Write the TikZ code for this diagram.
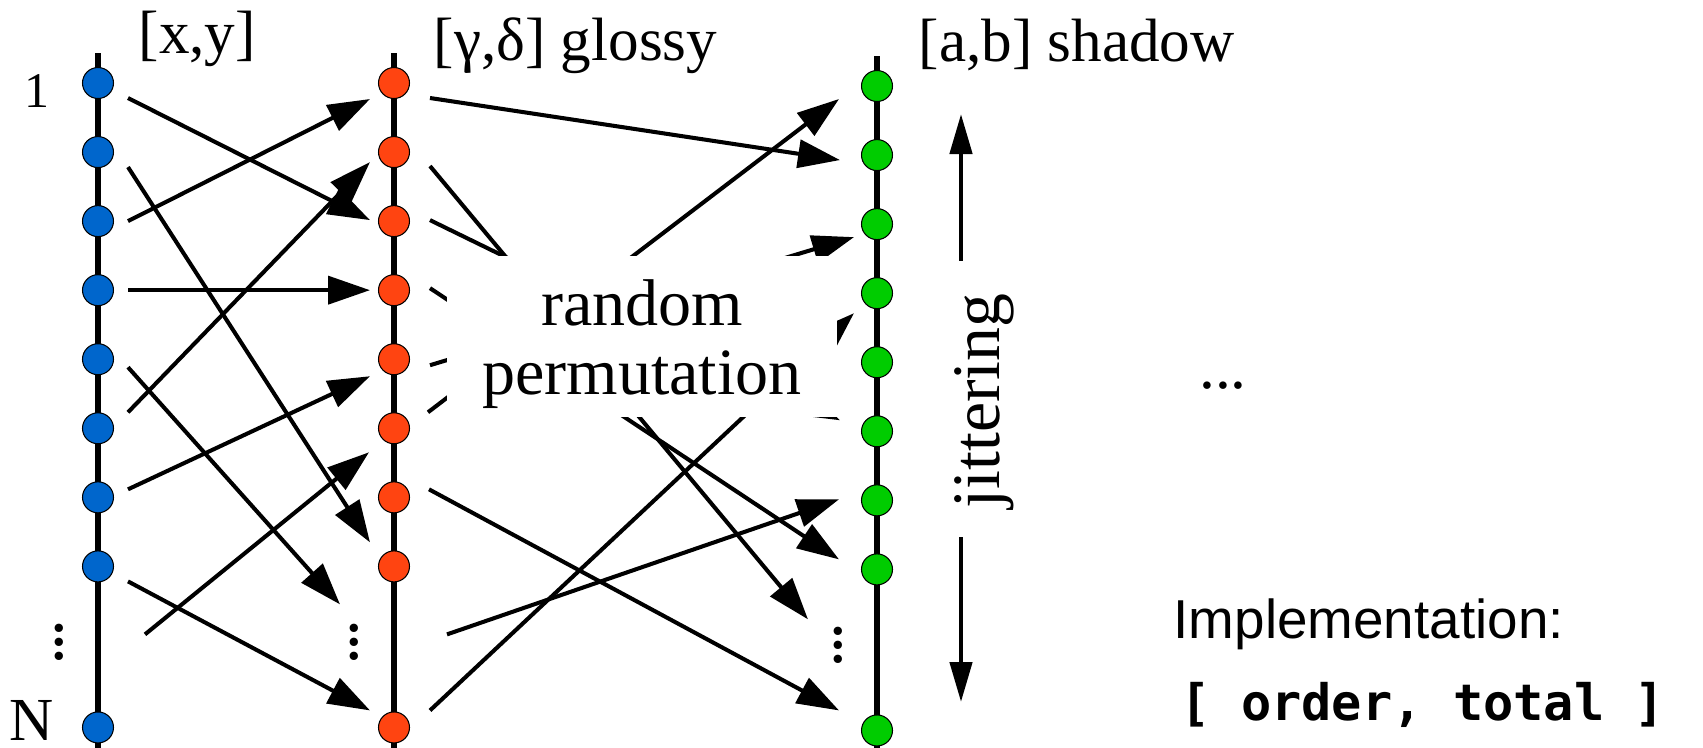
\documentclass[tikz,border=0pt]{standalone}
\usepackage{fontspec}
\setmainfont{Liberation Serif}
\setsansfont{Liberation Sans}
\setmonofont{DejaVu Sans Mono}
\usetikzlibrary{arrows.meta, positioning, calc, backgrounds}

\definecolor{dotblue}{RGB}{0,102,204}
\definecolor{dotred}{RGB}{255,68,17}
\definecolor{dotgreen}{RGB}{0,204,0}

\begin{document}
\begin{tikzpicture}[
	node distance=0.37cm,
	% dots on the three axes
	ptdot/.style={circle, draw=black, line width=0.3pt, minimum size=0.31cm, inner sep=0pt},
	dot-xy/.style={ptdot, fill=dotblue},
	dot-gd/.style={ptdot, fill=dotred},
	dot-ab/.style={ptdot, fill=dotgreen},
	vdot/.style={anchor=south, inner sep=0pt, font=\fontsize{20}{24}\selectfont},
	% lines and arrows
	axis line/.style={line width=1.8pt},
	perm arrow/.style={line width=1.15pt, -{Triangle[length=0.42cm, width=0.28cm]}},
	jitter arrow/.style={line width=1.3pt, -{Triangle[length=0.40cm, width=0.22cm]}},
	% text styles
	col label/.style={anchor=base west, inner sep=0pt, font=\fontsize{17.4}{20}\selectfont},
	perm label/.style={fill=white, align=center, minimum width=3.90cm, minimum height=1.61cm, inner sep=0pt, font=\fontsize{18.8}{19.9}\selectfont},
	jitter label/.style={rotate=90, anchor=base, inner sep=0pt, font=\fontsize{19.3}{22}\selectfont}
	]
	\useasboundingbox (0,0) rectangle (17.03,-7.47);
	
	% ==============================================================================
	% AXES
	% ==============================================================================
	
	% [x,y]
	\node[dot-xy] (b1) at (0.98,-0.83) {};
	\node[dot-xy, below=of b1] (b2) {};
	\node[dot-xy, below=of b2] (b3) {};
	\node[dot-xy, below=of b3] (b4) {};
	\node[dot-xy, below=of b4] (b5) {};
	\node[dot-xy, below=of b5] (b6) {};
	\node[dot-xy, below=of b6] (b7) {};
	\node[dot-xy, below=of b7] (b8) {};
	\node[dot-xy, below=1.29cm of b8] (bN) {};
	\node[vdot] (bv) at ($(b8)!0.5!(bN)+(-0.39,-0.14)$) {\vdots};
	
	% [gamma,delta] glossy
	\node[dot-gd] (o1) at (3.94,-0.83) {};
	\node[dot-gd, below=of o1] (o2) {};
	\node[dot-gd, below=of o2] (o3) {};
	\node[dot-gd, below=of o3] (o4) {};
	\node[dot-gd, below=of o4] (o5) {};
	\node[dot-gd, below=of o5] (o6) {};
	\node[dot-gd, below=of o6] (o7) {};
	\node[dot-gd, below=of o7] (o8) {};
	\node[dot-gd, below=1.29cm of o8] (oN) {};
	\node[vdot] (ov) at ($(o8)!0.5!(oN)+(-0.40,-0.14)$) {\vdots};
	
	% [a,b] shadow
	\node[dot-ab] (g1) at (8.77,-0.86) {};
	\node[dot-ab, below=of g1] (g2) {};
	\node[dot-ab, below=of g2] (g3) {};
	\node[dot-ab, below=of g3] (g4) {};
	\node[dot-ab, below=of g4] (g5) {};
	\node[dot-ab, below=of g5] (g6) {};
	\node[dot-ab, below=of g6] (g7) {};
	\node[dot-ab, below=of g7] (g8) {};
	\node[dot-ab, below=1.29cm of g8] (gN) {};
	\node[vdot] (gv) at ($(g8)!0.5!(gN)+(-0.39,-0.14)$) {\vdots};
	
	\begin{scope}[on background layer]
		\draw[axis line] ($(b1)+(0,0.30)$) -- ($(bN)+(0,-0.28)$);
		\draw[axis line] ($(o1)+(0,0.30)$) -- ($(oN)+(0,-0.28)$);
		\draw[axis line] ($(g1)+(0,0.30)$) -- ($(gN)+(0,-0.25)$);
	\end{scope}
	
	\node[col label] (lxy) at (1.38,-0.53) {[x,y]};
	\node[col label] (lgd) at (4.33,-0.60) {[γ,δ] glossy};
	\node[col label] (lab) at (9.18,-0.61) {[a,b] shadow};
	
	\node[anchor=base, inner sep=0pt, font=\fontsize{14.2}{16}\selectfont] (first) at (0.37,-1.07) {1};
	\node[anchor=base, inner sep=0pt, font=\fontsize{17.4}{20}\selectfont] (last) at (0.315,-7.40) {N};
	
	% ==============================================================================
	% PERMUTATIONS
	% ==============================================================================
	
	% [x,y] -> [gamma,delta]
	\draw[perm arrow] ($(b1)+(0.30,-0.15)$) -- ($(o3)+(-0.24,0.01)$);
	\draw[perm arrow] ($(b2)+(0.30,-0.15)$) -- ($(o8)+(-0.24,0.24)$);
	\draw[perm arrow] ($(b3)+(0.30,0)$) -- ($(o1)+(-0.24,-0.16)$);
	\draw[perm arrow] ($(b4)+(0.30,0)$) -- ($(o4)+(-0.24,0)$);
	\draw[perm arrow] ($(b5)+(0.30,-0.08)$) -- ($(o8)+(-0.54,-0.38)$);
	\draw[perm arrow] ($(b6)+(0.30,0.16)$) -- ($(o2)+(-0.24,-0.10)$);
	\draw[perm arrow] ($(b7)+(0.30,0.08)$) -- ($(o5)+(-0.24,-0.17)$);
	\draw[perm arrow] ($(b8)+(0.47,-0.68)$) -- ($(o6)+(-0.25,-0.24)$);
	\draw[perm arrow] ($(b8)+(0.30,-0.15)$) -- ($(oN)+(-0.24,0.17)$);
	
	% [gamma,delta] -> [a,b]
	\draw[perm arrow] ($(o1)+(0.36,-0.15)$) -- ($(g2)+(-0.37,-0.05)$);
	\draw[perm arrow] ($(o2)+(0.36,-0.14)$) -- ($(g8)+(-0.69,-0.50)$);
	\draw[perm arrow] ($(o3)+(0.36,0.01)$) -- ($(g6)+(-0.37,0.11)$);
	\draw[perm arrow] ($(o4)+(0.36,0.02)$) -- ($(g8)+(-0.38,0.10)$);
	\draw[perm arrow] ($(o5)+(0.36,-0.06)$) -- ($(g3)+(-0.23,-0.13)$);
	\draw[perm arrow] ($(o6)+(0.34,0.16)$) -- ($(g1)+(-0.38,-0.13)$);
	\draw[perm arrow] ($(o7)+(0.35,0.08)$) -- ($(gN)+(-0.38,0.20)$);
	\draw[perm arrow] ($(o8)+(0.53,-0.68)$) -- ($(g7)+(-0.38,0.01)$);
	\draw[perm arrow] ($(oN)+(0.36,0.17)$) -- ($(g4)+(-0.23,-0.20)$);
	
	\node[perm label] (perm) at (6.42,-3.365) {\rule{0pt}{0.61cm}random\\permutation};
	
	% jittering
	\node[jitter label] (jit) at (9.99,-4.01) {jittering};
	\coordinate (jit-top) at (9.61,-1.14);
	\coordinate (jit-bot) at (9.61,-7.02);
	\draw[jitter arrow] ($(jit.east -| jit-top)+(0,0.32)$) -- (jit-top);
	\draw[jitter arrow] ($(jit.west -| jit-bot)+(0,-0.28)$) -- (jit-bot);
	
	\node[anchor=base, inner sep=0pt, font=\fontsize{18}{20}\selectfont] (more) at (12.23,-3.88) {...};
	
	% ==============================================================================
	% IMPLEMENTATION
	% ==============================================================================
	\node[anchor=base west, inner sep=0pt, font=\sffamily\fontsize{15.6}{18}\selectfont] (impl) at (11.73,-6.38) {Implementation:};
	\node[anchor=base west, inner sep=0pt, font=\ttfamily\bfseries\fontsize{14.3}{17}\selectfont] (impl-code) at (11.80,-7.20) {[ order, total ]};
	
\end{tikzpicture}
\end{document}
